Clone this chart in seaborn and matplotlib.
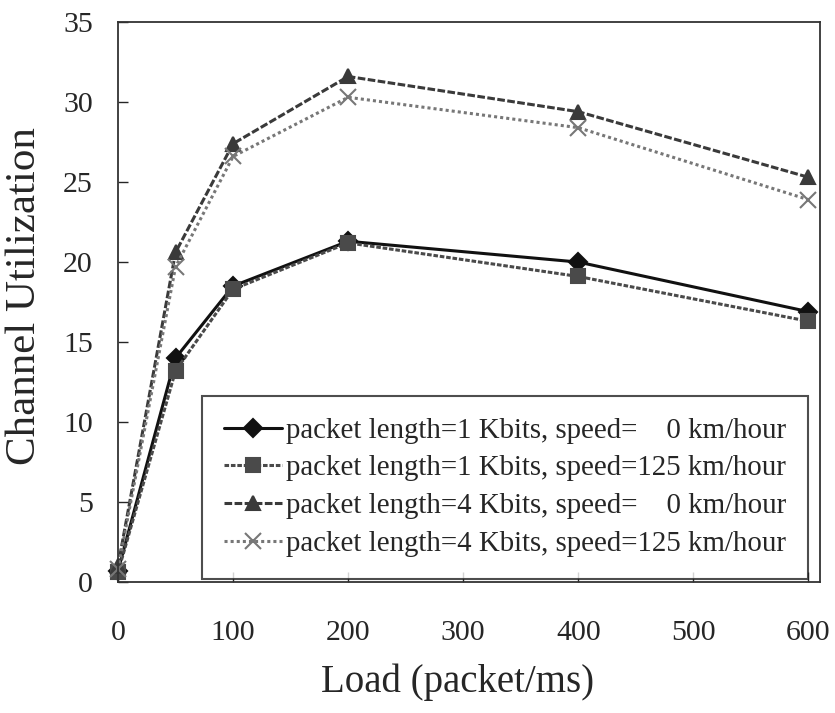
import matplotlib
matplotlib.use("Agg")
import matplotlib.pyplot as plt
import seaborn as sns
import pandas as pd

loads = [0, 50, 100, 200, 400, 600]
s1 = [0.7, 14.0, 18.5, 21.3, 20.0, 16.9]
s2 = [0.6, 13.2, 18.3, 21.2, 19.1, 16.3]
s3 = [1.0, 20.6, 27.4, 31.6, 29.4, 25.3]
s4 = [0.8, 19.7, 26.6, 30.3, 28.4, 23.9]
labels = [
    "packet length=1 Kbits, speed=    0 km/hour",
    "packet length=1 Kbits, speed=125 km/hour",
    "packet length=4 Kbits, speed=    0 km/hour",
    "packet length=4 Kbits, speed=125 km/hour",
]
xticks = [0, 100, 200, 300, 400, 500, 600]
yticks = [0, 5, 10, 15, 20, 25, 30, 35]

sns.set_style("ticks")
plt.rcParams["font.family"] = ["Liberation Serif", "DejaVu Serif"]

fig = plt.figure(figsize=(8.35, 7.13), dpi=100)
ax = fig.add_axes([0.1413, 0.1837, 0.8407, 0.7853])

colors = ["#111111", "#4a4a4a", "#3a3a3a", "#777777"]
markers = ["D", "s", "^", "x"]
dashes = [(None, None), (1.5, 0.6), (2.5, 0.8), (1, 1)]
msizes = [9, 10, 10, 11]

for lab, vals, c, m, d, ms in zip(labels, [s1, s2, s3, s4], colors, markers, dashes, msizes):
    df = pd.DataFrame({"Load": loads, "Util": vals})
    kw = {}
    if d[0] is not None:
        kw["dashes"] = d
    sns.lineplot(data=df, x="Load", y="Util", ax=ax, color=c, marker=m,
                 markersize=ms, markeredgewidth=1.5, markeredgecolor=c,
                 linewidth=2.2, label=lab, clip_on=False, **kw)

ax.set_xlim(0, 610)
ax.set_ylim(0, 35)
ax.set_xticks(xticks)
ax.set_yticks(yticks)
ax.tick_params(direction="in", labelsize=21.5, length=7, width=1)
ax.tick_params(axis="x", pad=27)
ax.tick_params(axis="y", pad=18)
for s in ax.spines.values():
    s.set_linewidth(1.3)
    s.set_color("#333333")
ax.set_xlabel("Load (packet/ms)", fontsize=28)
ax.xaxis.set_label_coords(0.484, -0.146)
ax.set_ylabel("Channel Utilization", fontsize=31)
ax.yaxis.set_label_coords(-0.106, 0.51)

leg = ax.legend(loc="lower right", bbox_to_anchor=(0.983, 0.006), fontsize=20.8,
                frameon=True, fancybox=False, edgecolor="#222222",
                handlelength=2.0, handletextpad=0.15, borderpad=0.75,
                labelspacing=0.4, borderaxespad=0.0)
leg.get_frame().set_linewidth(1.5)

fig.savefig("out.png", dpi=100)
